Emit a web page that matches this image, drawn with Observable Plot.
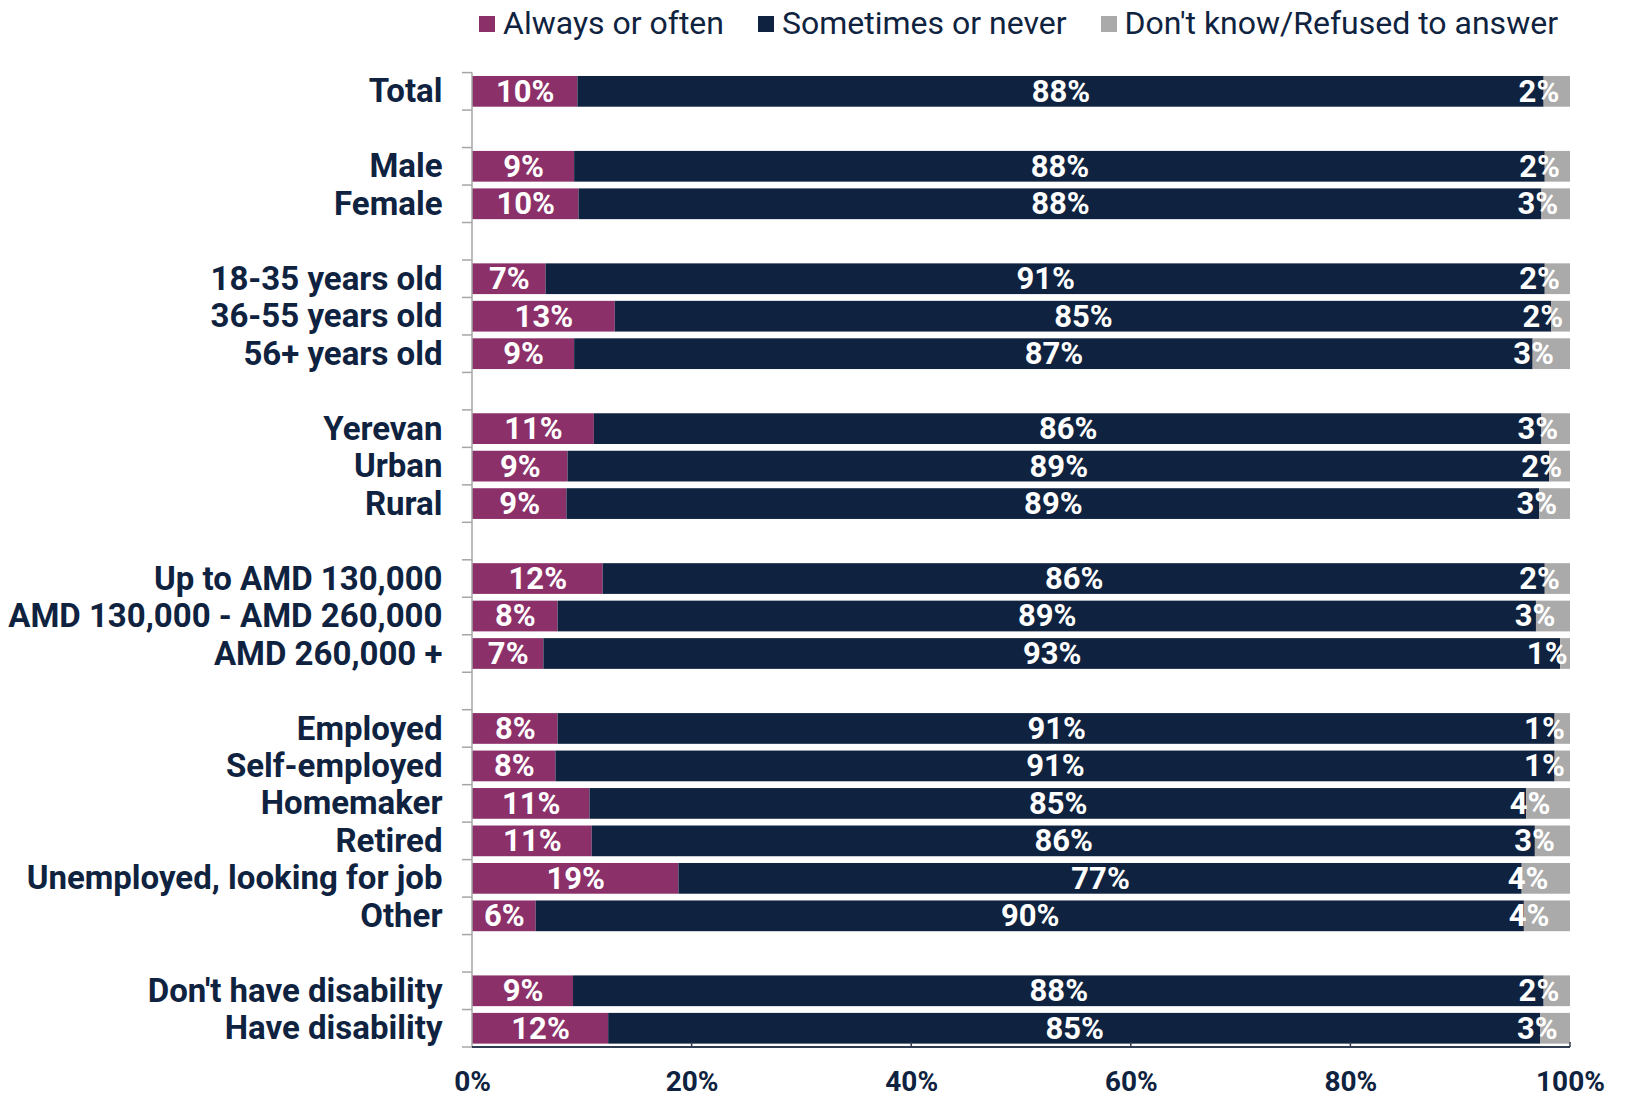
<!DOCTYPE html>
<html>
<head>
<meta charset="utf-8">
<script src="https://cdn.jsdelivr.net/npm/d3@7"></script>
<script src="https://cdn.jsdelivr.net/npm/@observablehq/plot@0.6"></script>
<style>
  body { margin: 0; background: #fff; font-family: Roboto, sans-serif; }
  #legend { position: relative; height: 50px; display: flex; align-items: center; padding-left: 479px; box-sizing: border-box; padding-bottom: 4px; }
  .item { display: flex; align-items: center; font-size: 32px; color: #0F2340; white-space: nowrap; margin-right: 34px; }
  .sw { width: 16px; height: 16px; margin-right: 8px; margin-top: 2px; }
  #chart svg { display: block; }
</style>
</head>
<body>
<div id="legend"></div>
<div id="chart"></div>
<script>
// ---- data ----
const categories = [
  "Total", "",
  "Male", "Female", "",
  "18-35 years old", "36-55 years old", "56+ years old", "",
  "Yerevan", "Urban", "Rural", "",
  "Up to AMD 130,000", "AMD 130,000 - AMD 260,000", "AMD 260,000 +", "",
  "Employed", "Self-employed", "Homemaker", "Retired", "Unemployed, looking for job", "Other", "",
  "Don't have disability", "Have disability"
];
const seriesNames = ["Always or often", "Sometimes or never", "Don't know/Refused to answer"];
const alwaysOften = [9.6, null, 9.3, 9.7, null, 6.7, 13.0, 9.3, null, 11.1, 8.7, 8.6, null, 11.9, 7.8, 6.5, null, 7.8, 7.6, 10.7, 10.9, 18.8, 5.8, null, 9.2, 12.4];
const sometimesNever = [88.0, null, 88.4, 87.7, null, 91.0, 85.3, 87.3, null, 86.3, 89.4, 88.6, null, 85.8, 89.1, 92.6, null, 90.8, 91.0, 85.3, 85.9, 76.8, 90.0, null, 88.4, 84.9];
const dontKnow = [2.4, null, 2.3, 2.6, null, 2.3, 1.7, 3.4, null, 2.6, 1.9, 2.8, null, 2.3, 3.1, 0.9, null, 1.4, 1.4, 4.0, 3.2, 4.4, 4.2, null, 2.4, 2.7];
const xTicks = [0, 20, 40, 60, 80, 100];
const colors = ["#8C306A", "#0F2340", "#AAAAAA"];
const navy = "#0F2340";

// ---- build long table ----
const slots = d3.range(categories.length);
const seriesValues = [alwaysOften, sometimesNever, dontKnow];
const long = [];
slots.forEach(i => {
  seriesValues.forEach((arr, s) => {
    if (arr[i] != null) long.push({slot: i, series: seriesNames[s], value: arr[i], label: Math.round(arr[i]) + "%"});
  });
});

// ---- legend ----
const legend = d3.select("#legend");
seriesNames.forEach((name, i) => {
  const it = legend.append("div").attr("class", "item");
  it.append("div").attr("class", "sw").style("background", colors[i]);
  it.append("span").text(name);
});

// ---- chart ----
const chart = Plot.plot({
  width: 1627,
  height: 1050,
  marginTop: 22.6,
  marginBottom: 53,
  marginLeft: 472,
  marginRight: 57,
  style: {fontFamily: "Roboto, sans-serif", fontSize: "28px", fontWeight: 700, color: navy, background: "white", overflow: "visible"},
  x: {domain: [0, 100], ticks: xTicks, tickFormat: d => d + "%", tickSize: 0, tickPadding: 24, label: null},
  y: {domain: slots, paddingInner: 0.18, paddingOuter: 0.09, round: false, axis: null},
  color: {domain: seriesNames, range: colors},
  marks: [
    Plot.barX(long, {y: "slot", x: "value", fill: "series"}),
    Plot.text(long, Plot.stackX({
      y: "slot", x: "value",
      text: d => d.series !== seriesNames[2] ? d.label : null,
      fill: "white", fontSize: 31, fontWeight: "bold"
    })),
    Plot.text(long, Plot.stackX({
      y: "slot", x: "value",
      text: d => d.series === seriesNames[2] ? d.label : null,
      textAnchor: "end", dx: 2,
      fill: "white", fontSize: 31, fontWeight: "bold"
    })),
    Plot.text(slots, {
      y: d => d, x: () => 0,
      text: i => categories[i],
      textAnchor: "end", dx: -30,
      fill: navy, fontSize: 33, fontWeight: "bold"
    })
  ]
});
document.getElementById("chart").appendChild(chart);

// ---- axis lines / boundary ticks (from Plot's scales) ----
const ys = chart.scale("y");
const xs = chart.scale("x");
const gap = (ys.step - ys.bandwidth) / 2;
const bounds = slots.map(i => ys.apply(i) - gap);
bounds.push(ys.apply(slots[slots.length - 1]) + ys.bandwidth + gap);
const x0 = xs.apply(0), x100 = xs.apply(100);
const g = d3.select(chart).append("g");
g.append("line").attr("x1", x0).attr("x2", x0).attr("y1", bounds[0]).attr("y2", bounds[bounds.length - 1])
  .attr("stroke", "#A6A6A6").attr("stroke-width", 1.5);
bounds.forEach(b => {
  g.append("line").attr("x1", x0 - 10).attr("x2", x0).attr("y1", b).attr("y2", b)
    .attr("stroke", "#A6A6A6").attr("stroke-width", 1.5);
});
const yb = bounds[bounds.length - 1];
g.append("line").attr("x1", x0).attr("x2", x100).attr("y1", yb).attr("y2", yb)
  .attr("stroke", "#2E3B50").attr("stroke-width", 2);
xTicks.slice(1).forEach(t => {
  g.append("line").attr("x1", xs.apply(t)).attr("x2", xs.apply(t)).attr("y1", yb).attr("y2", yb - 5)
    .attr("stroke", "#2E3B50").attr("stroke-width", 1.5);
});
</script>
</body>
</html>
